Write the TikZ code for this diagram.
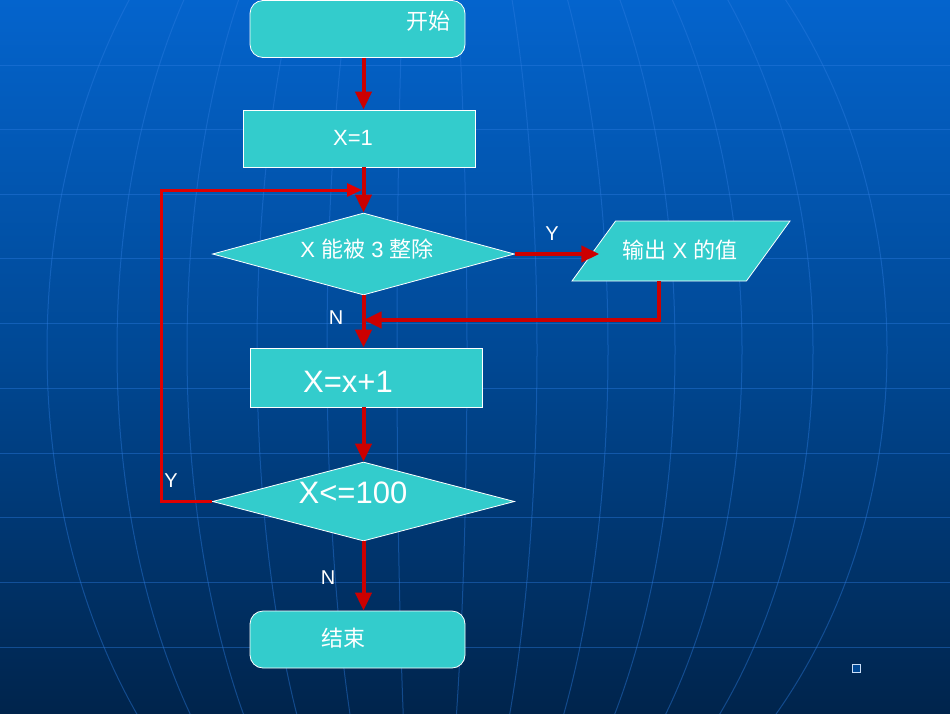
\documentclass[tikz,border=0pt]{standalone}
\usepackage{fontspec}
\setmainfont{Liberation Sans}
\newfontfamily\cjk{Noto Sans CJK SC}
\usetikzlibrary{arrows.meta,shapes.geometric}
\definecolor{boxcyan}{RGB}{51,204,204}
\definecolor{flowred}{RGB}{204,0,0}
\definecolor{gridblue}{RGB}{45,125,225}
\definecolor{bgtop}{RGB}{4,100,205}
\definecolor{bgmid}{RGB}{0,72,148}
\definecolor{bgbot}{RGB}{0,36,76}

\begin{document}
\begin{tikzpicture}[x=1pt,y=-1pt,
  box/.style={draw=white,line width=0.8pt,fill=boxcyan,inner sep=0pt,minimum width=232pt,minimum height=57pt},
  term/.style={box,rounded corners=13pt,minimum width=215pt},
  decide/.style={box,diamond,minimum width=302pt,minimum height=82pt},
  io/.style={draw=white,line width=0.8pt,fill=boxcyan,trapezium,trapezium left angle=54,trapezium right angle=126,trapezium stretches body,inner xsep=0pt,inner ysep=30pt,minimum width=218pt},
  txt/.style={text=white,font=\fontsize{22}{24}\selectfont,inner sep=0pt},
  bigtxt/.style={txt,font=\fontsize{31}{34}\selectfont},
  yn/.style={text=white,font=\fontsize{20}{22}\selectfont,inner sep=0pt},
  flow/.style={draw=flowred,line width=4pt,-{Triangle[length=18pt,width=16pt]}},
  back/.style={draw=red!88!black,line width=3pt,-{Triangle[length=15pt,width=13pt]}}]
  \useasboundingbox (0,0) rectangle (950,713);
  \fill[top color=bgtop,bottom color=bgbot,middle color=bgmid] (0,0) rectangle (950,713);
  \begin{scope}[draw=gridblue,line width=1pt,opacity=0.42]
    \clip (0,0) rectangle (950,713);
    \foreach \gy in {65,129,194,258,323,388,453,517,582,647}
      \draw (0,\gy) -- (950,\gy);
    \foreach \ga in {44,114,185,252,319,390,464}
      \draw (423,-211) arc[start angle=-90,end angle=90,x radius=\ga,y radius=561];
    \foreach \ga in {26,96,166,236,306,376}
      \draw (423,-211) arc[start angle=-90,end angle=-270,x radius=\ga,y radius=561];
  \end{scope}

  \node[term] (start) at (357.5,29) {};
  \node[box] (init) at (359,138.5) {};
  \node[decide] (check3) at (363.5,254) {};
  \node[io] (output) at (681,251) {};
  \node[box,minimum height=59pt] (inc) at (366,377.5) {};
  \node[decide,minimum height=79pt] (check100) at (363.5,501.5) {};
  \node[term] (stop) at (357.5,639.5) {};

  \node[txt] (tstart) at (428,21) {\cjk 开始};
  \node[txt] (tinit) at (353,138) {X=1};
  \node[txt] (tcheck3) at (367,249) {X {\cjk 能被} 3 {\cjk 整除}};
  \node[txt] (toutput) at (680,250) {{\cjk 输出} X {\cjk 的值}};
  \node[bigtxt] (tinc) at (348,382) {X=x+1};
  \node[bigtxt] (tcheck100) at (353,493) {X<=100};
  \node[txt] (tstop) at (343,638) {\cjk 结束};

  \coordinate (merge) at (362,190);
  \coordinate (join) at (363.5,320);
  \draw[flow] (start.south -| check3) -- (init.north -| check3);
  \draw[flow] (init.south -| check3) -- (check3.north);
  \draw[flow] (check3.east) -- ([xshift=6pt]check3.east -| output.west);
  \draw[flow] (check3.south) -- (inc.north -| check3);
  \draw[flow] (output.bottom side) |- (join);
  \draw[flow] (inc.south -| check3) -- (check100.north);
  \draw[flow] (check100.south) -- (stop.north -| check3);
  \draw[back] (check100.west) -- ++(-51,0) |- (merge);

  \node[yn] (yes3) at (552,234) {Y};
  \node[yn] (no3) at (336,318) {N};
  \node[yn] (yes100) at (171,481) {Y};
  \node[yn] (no100) at (328,578) {N};

  \node[draw=white!75!gridblue,fill=bgmid,line width=0.8pt,minimum size=8pt,inner sep=0pt] (sq) at (856,668) {};
\end{tikzpicture}
\end{document}
